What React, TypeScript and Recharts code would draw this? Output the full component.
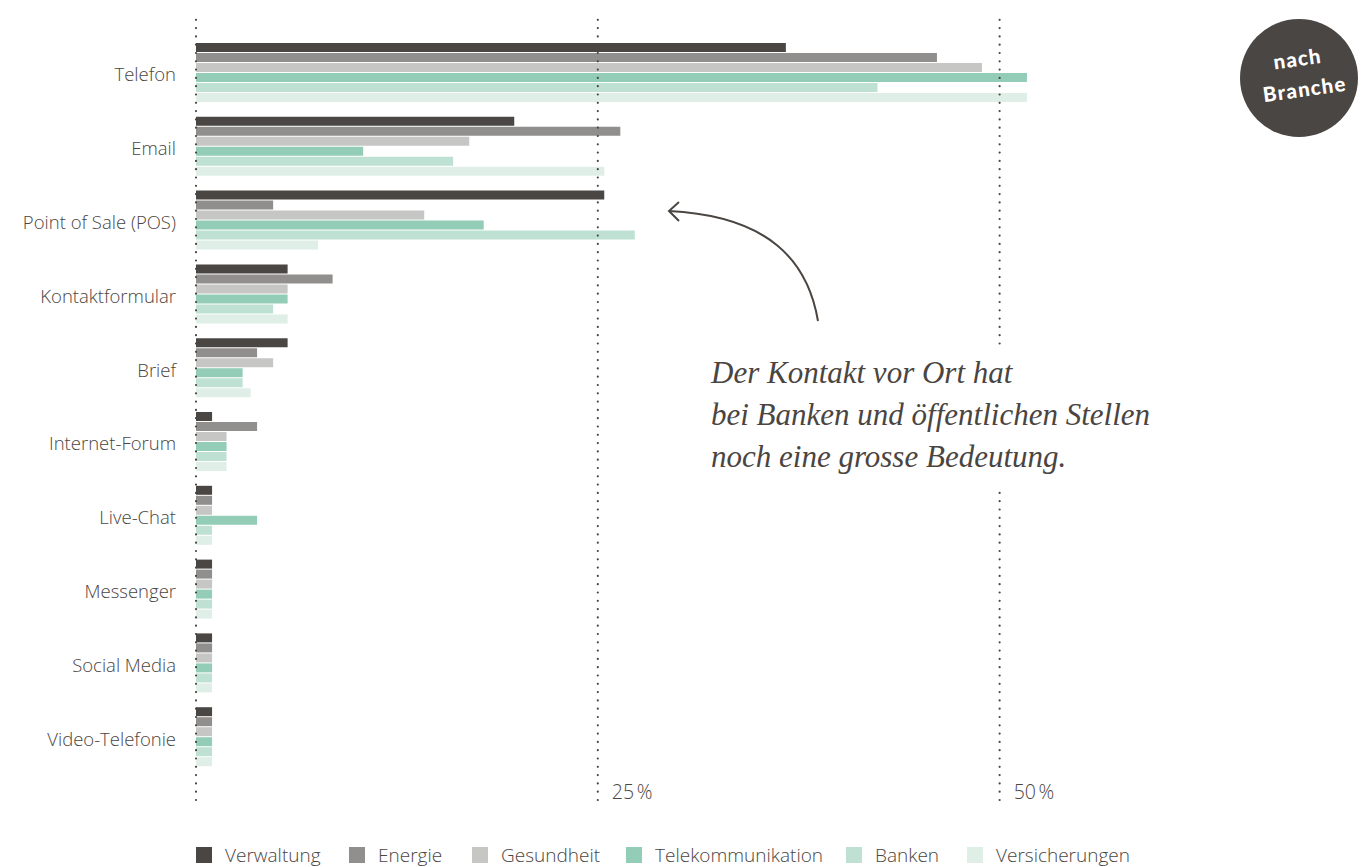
import { BarChart, Bar, XAxis, YAxis, ReferenceLine } from "recharts";

// Kontaktkanäle nach Branche, Anteil in %
const categories = [
  "Telefon",
  "Email",
  "Point of Sale (POS)",
  "Kontaktformular",
  "Brief",
  "Internet-Forum",
  "Live-Chat",
  "Messenger",
  "Social Media",
  "Video-Telefonie",
];

const verwaltung = [36.7, 19.8, 25.4, 5.7, 5.7, 1.0, 1.0, 1.0, 1.0, 1.0];
const energie = [46.1, 26.4, 4.8, 8.5, 3.8, 3.8, 1.0, 1.0, 1.0, 1.0];
const gesundheit = [48.9, 17.0, 14.2, 5.7, 4.8, 1.9, 1.0, 1.0, 1.0, 1.0];
const telekommunikation = [51.7, 10.4, 17.9, 5.7, 2.9, 1.9, 3.8, 1.0, 1.0, 1.0];
const banken = [42.4, 16.0, 27.3, 4.8, 2.9, 1.9, 1.0, 1.0, 1.0, 1.0];
const versicherungen = [51.7, 25.4, 7.6, 5.7, 3.4, 1.9, 1.0, 1.0, 1.0, 1.0];

const xTicks = [0, 25, 50];

const series = [
  { key: "verwaltung", name: "Verwaltung", color: "#4a4643", values: verwaltung },
  { key: "energie", name: "Energie", color: "#918f8d", values: energie },
  { key: "gesundheit", name: "Gesundheit", color: "#c6c6c5", values: gesundheit },
  { key: "telekommunikation", name: "Telekommunikation", color: "#93cdb8", values: telekommunikation },
  { key: "banken", name: "Banken", color: "#bfe1d4", values: banken },
  { key: "versicherungen", name: "Versicherungen", color: "#dfefe8", values: versicherungen },
];

// legend item widths (square + label + gap)
const legendWidths = [153, 123, 154, 220, 121, 180];

const data = categories.map((name, i) => {
  const row: Record<string, string | number> = { name };
  series.forEach((s) => (row[s.key] = s.values[i]));
  return row;
});

const TEXT = "#4a4541";
const SANS = "'Open Sans', sans-serif";

function PercentTick(props: any) {
  const { x, y, payload } = props;
  if (payload.value === 0) return null;
  return (
    <text x={x + 14} y={y - 1} fill={TEXT} fontSize={19.5} fontFamily={SANS} fontWeight={300}>
      {payload.value}{"\u202F"}%
    </text>
  );
}

export default function App() {
  return (
    <div style={{ position: "absolute", left: 0, top: 0, width: 1369, height: 867, background: "#fff", fontFamily: SANS }}>
      <BarChart
        width={1369}
        height={867}
        data={data}
        layout="vertical"
        barSize={9}
        barGap={1}
        margin={{ top: 12, right: 289, left: 0, bottom: 37 }}
      >
        <XAxis
          type="number"
          domain={[0, 55]}
          ticks={xTicks}
          axisLine={false}
          tickLine={false}
          tickSize={0}
          tickMargin={0}
          height={30}
          tick={<PercentTick />}
        />
        <YAxis
          type="category"
          dataKey="name"
          width={196}
          axisLine={false}
          tickLine={false}
          tickSize={0}
          tickMargin={20}
          padding={{ top: 24, bottom: 26 }}
          tick={{ fill: TEXT, fontSize: 18.5, fontFamily: SANS, fontWeight: 300, dy: 2 }}
        />
        {series.map((s) => (
          <Bar key={s.key} dataKey={s.key} name={s.name} fill={s.color} isAnimationActive={false} />
        ))}
        {xTicks.map((t) => (
          <ReferenceLine
            key={t}
            x={t}
            stroke={TEXT}
            strokeWidth={2.2}
            strokeDasharray="0 8.3"
            strokeLinecap="round"
          />
        ))}
      </BarChart>

      {/* annotation */}
      <svg width={1369} height={867} style={{ position: "absolute", left: 0, top: 0, pointerEvents: "none" }}>
        <path d="M 818 321 C 808 262, 770 216, 669 211" fill="none" stroke={TEXT} strokeWidth={2} />
        <path d="M 679 202 L 669 211 L 679 221" fill="none" stroke={TEXT} strokeWidth={2} />
        <circle cx={1299} cy={78} r={59} fill="#4a4643" />
        <g
          transform="rotate(-8 1300 77)"
          fill="#fff"
          fontFamily="Lato, sans-serif"
          fontWeight={900}
          fontSize={20.5}
          letterSpacing={1.2}
          textAnchor="middle"
        >
          <text x={1300} y={66}>nach</text>
          <text x={1303} y={97}>Branche</text>
        </g>
      </svg>
      <div
        style={{
          position: "absolute",
          left: 705,
          top: 345,
          width: 470,
          height: 143,
          background: "#fff",
          fontFamily: "'Liberation Serif', serif",
          fontStyle: "italic",
          fontSize: 31,
          lineHeight: "42px",
          color: TEXT,
          paddingLeft: 6,
          paddingTop: 7,
          boxSizing: "border-box",
        }}
      >
        Der Kontakt vor Ort hat
        <br />
        bei Banken und öffentlichen Stellen
        <br />
        noch eine grosse Bedeutung.
      </div>

      {/* legend */}
      <div style={{ position: "absolute", left: 196, top: 842, display: "flex", alignItems: "center", fontSize: 19, fontWeight: 300, color: TEXT, whiteSpace: "nowrap" }}>
        {series.map((s, i) => (
          <div key={s.key} style={{ display: "flex", alignItems: "center", width: legendWidths[i] }}>
            <span style={{ width: 16, height: 16, background: s.color, display: "inline-block", marginRight: 13, flexShrink: 0 }} />
            <span>{s.name}</span>
          </div>
        ))}
      </div>
    </div>
  );
}
